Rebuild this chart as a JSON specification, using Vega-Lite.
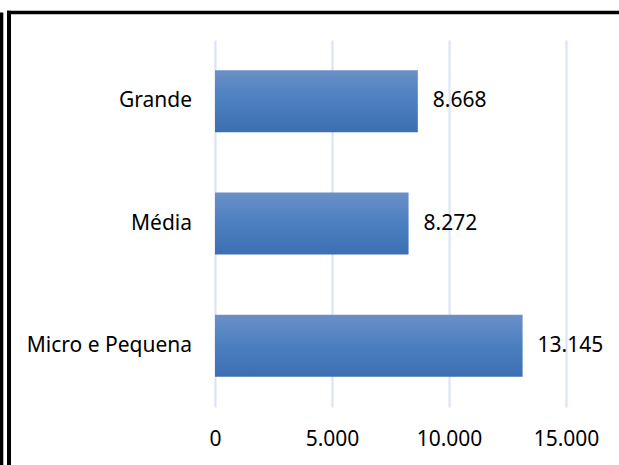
{
  "$schema": "https://vega.github.io/schema/vega-lite/v6.json",
  "usermeta": {"embedOptions": {"actions": false}},
  "width": 610,
  "height": 422,
  "autosize": {"type": "none"},
  "padding": {"left": 9, "top": 12.5, "right": 0, "bottom": 30},
  "background": "white",
  "config": {
    "locale": {"number": {"decimal": ",", "thousands": ".", "grouping": [3], "currency": ["R$", ""]}},
    "view": {"stroke": null},
    "font": "Noto Sans"
  },
  "data": {"values": [
    {"categoria": "Grande", "valor": 8668},
    {"categoria": "Média", "valor": 8272},
    {"categoria": "Micro e Pequena", "valor": 13145}
  ]},
  "layer": [
    {
      "mark": {"type": "bar", "color": {"gradient": "linear", "x1": 0, "y1": 0, "x2": 0, "y2": 1,
        "stops": [{"offset": 0, "color": "#6b90c8"}, {"offset": 0.5, "color": "#4a7fc0"}, {"offset": 1, "color": "#3c6fb1"}]}},
      "encoding": {
        "y": {"field": "categoria", "type": "nominal", "sort": ["Grande", "Média", "Micro e Pequena"],
          "scale": {"range": [27.5, 394.5], "paddingInner": 0.493, "paddingOuter": 0.2465}, "axis": null},
        "x": {"field": "valor", "type": "quantitative",
          "scale": {"domain": [0, 15000], "range": [206, 557], "nice": false, "zero": true},
          "axis": {"values": [0, 5000, 10000, 15000], "format": ",d", "domain": false, "ticks": false, "tickSize": 0,
            "grid": true, "gridColor": "#d9e3f3", "gridWidth": 2, "offset": -27.5, "labelPadding": 21.4,
            "labelFontSize": 21, "labelColor": "black", "labelFont": "Noto Sans", "labelFlush": false, "title": null}}
      }
    },
    {
      "mark": {"type": "text", "align": "left", "baseline": "middle", "dx": 15, "fontSize": 21, "color": "black"},
      "encoding": {
        "y": {"field": "categoria", "type": "nominal", "sort": ["Grande", "Média", "Micro e Pequena"]},
        "x": {"field": "valor", "type": "quantitative"},
        "text": {"field": "valor", "type": "quantitative", "format": ",d"}
      }
    },
    {
      "mark": {"type": "text", "align": "right", "baseline": "middle", "dx": -23, "fontSize": 21, "color": "black"},
      "encoding": {
        "y": {"field": "categoria", "type": "nominal", "sort": ["Grande", "Média", "Micro e Pequena"]},
        "x": {"datum": 0, "type": "quantitative"},
        "text": {"field": "categoria", "type": "nominal"}
      }
    },
    {
      "data": {"values": [{"borda": "superior"}]},
      "mark": {"type": "rule", "strokeWidth": 3.5, "color": "black"},
      "encoding": {
        "x": {"datum": -8889, "type": "quantitative"},
        "x2": {"datum": 20000},
        "y": {"value": {"expr": "0"}}
      }
    },
    {
      "data": {"values": [{"borda": "esquerda externa"}]},
      "mark": {"type": "rule", "strokeWidth": 3.4, "color": "black", "y2Offset": 31},
      "encoding": {
        "x": {"datum": -9120, "type": "quantitative"},
        "y": {"value": {"expr": "0"}},
        "y2": {"value": {"expr": "height"}}
      }
    },
    {
      "data": {"values": [{"borda": "esquerda interna"}]},
      "mark": {"type": "rule", "strokeWidth": 4, "color": "black", "y2Offset": 31, "yOffset": -1.75},
      "encoding": {
        "x": {"datum": -8803, "type": "quantitative"},
        "y": {"value": {"expr": "0"}},
        "y2": {"value": {"expr": "height"}}
      }
    }
  ]
}
